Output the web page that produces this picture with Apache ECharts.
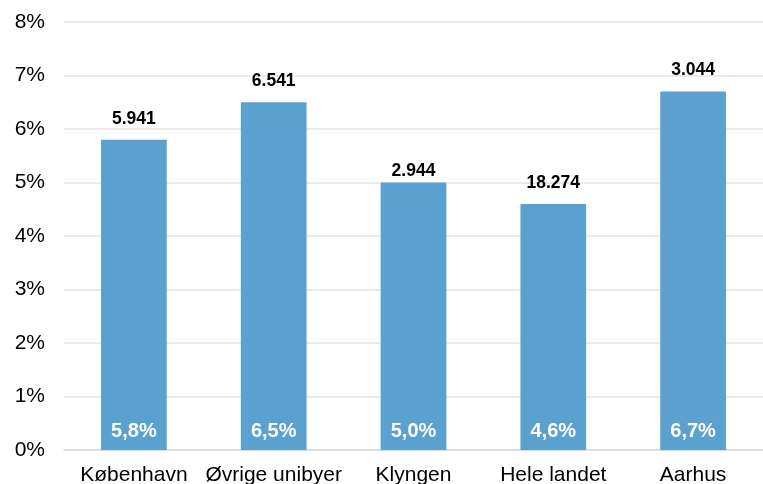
<!DOCTYPE html>
<html>
<head>
<meta charset="utf-8">
<script src="https://cdn.jsdelivr.net/npm/echarts@6/dist/echarts.min.js"></script>
<style>html,body{margin:0;padding:0;background:#fff}#c{width:763px;height:484px}</style>
</head>
<body>
<div id="c"></div>
<script>
var categories = ['København', 'Øvrige unibyer', 'Klyngen', 'Hele landet', 'Aarhus'];
var shares = [5.8, 6.5, 5.0, 4.6, 6.7];
var counts = ['5.941', '6.541', '2.944', '18.274', '3.044'];
var yTicks = [0, 1, 2, 3, 4, 5, 6, 7, 8];

var font = '"Liberation Sans", Arial, sans-serif';
var labelDistance = [12, 12, 2, 12, 12];

var chart = echarts.init(document.getElementById('c'), null, {renderer: 'canvas'});
chart.setOption({
  animation: false,
  grid: {left: 64, right: 0, top: 22, bottom: 34, containLabel: false, outerBoundsMode: 'none'},
  xAxis: {
    type: 'category',
    data: categories,
    axisLine: {show: true, lineStyle: {color: '#d9d9d9', width: 1.5}},
    axisTick: {show: false},
    axisLabel: {color: '#000', fontFamily: font, fontSize: 21, margin: 15, interval: 0}
  },
  yAxis: {
    type: 'value',
    min: yTicks[0],
    max: yTicks[yTicks.length - 1],
    interval: 1,
    axisLine: {show: false},
    axisTick: {show: false},
    splitLine: {lineStyle: {color: '#e3e3e3', width: 1.5}},
    axisLabel: {color: '#000', fontFamily: font, fontSize: 21, margin: 19, formatter: '{value}%'}
  },
  series: [
    {
      type: 'bar',
      data: shares.map(function (v, i) {
        return {value: v, label: {distance: labelDistance[i]}};
      }),
      barWidth: '47%',
      itemStyle: {color: '#5ba1cf'},
      label: {
        show: true,
        position: 'top',
        color: '#000',
        fontFamily: font,
        fontWeight: 'bold',
        fontSize: 17.5,
        formatter: function (p) { return counts[p.dataIndex]; }
      },
      z: 2
    },
    {
      type: 'bar',
      data: shares,
      barWidth: '47%',
      barGap: '-100%',
      itemStyle: {color: 'rgba(0,0,0,0)'},
      label: {
        show: true,
        position: 'insideBottom',
        distance: 9,
        color: '#fff',
        fontFamily: font,
        fontWeight: 'bold',
        fontSize: 20,
        formatter: function (p) { return p.value.toFixed(1).replace('.', ',') + '%'; }
      },
      z: 3
    }
  ]
});
</script>
</body>
</html>
